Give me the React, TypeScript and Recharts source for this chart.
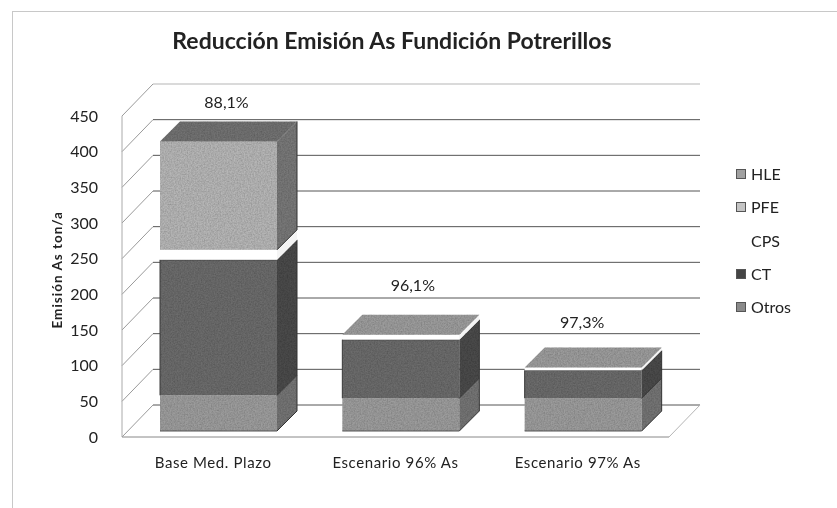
import { BarChart, Bar, XAxis, YAxis, CartesianGrid, LabelList, Legend } from 'recharts';

const categories = ['Base Med. Plazo', 'Escenario 96% As', 'Escenario 97% As'];
const seriesNames = ['Otros', 'CT', 'CPS', 'PFE', 'HLE'];
const otros = [50, 46, 46];
const ct = [190, 82, 39];
const cps = [14, 7, 4];
const pfe = [152, 0, 0];
const hle = [0, 0, 0];
const reduccion = ['88,1%', '96,1%', '97,3%'];
const yTicks = [0, 50, 100, 150, 200, 250, 300, 350, 400, 450];

const data = categories.map((name, i) => ({
  name,
  Otros: otros[i],
  CT: ct[i],
  CPS: cps[i],
  PFE: pfe[i],
  HLE: hle[i],
  reduccion: reduccion[i],
}));

const FONT = 'Lato, "Open Sans", sans-serif';
const DEPTH = 20;
const WALL = 31;

const colors: Record<string, { front: string; side: string }> = {
  Otros: { front: '#9c9c9c', side: '#747474' },
  CT: { front: '#6c6c6c', side: '#4c4c4c' },
  CPS: { front: '#ffffff', side: '#f4f4f4' },
  PFE: { front: '#b6b6b6', side: '#787878' },
  HLE: { front: '#9a9a9a', side: '#787878' },
};
const topColors = ['#727272', '#9c9c9c', '#9c9c9c'];
const legendColors = ['#8a8a8a', '#444444', 'none', '#c4c4c4', '#a0a0a0'];
const labelLift = [17, 28, 24];
const labelShift = [0, 4, -9];

// 3d box, the front face sits a little off the axis plane like excel does it
function Box3D(props: any) {
  const { x, y, width, height, seriesName, index } = props;
  const c = colors[seriesName];
  const l = x + 5;
  const r = l + width;
  const t = y - 6;
  const b = t + height;
  const d = DEPTH;
  const solid = seriesName !== 'CPS';
  return (
    <g>
      <g filter={solid ? 'url(#grain)' : undefined}>
        {height > 0 && <rect x={l} y={t} width={width} height={height} fill={c.front} />}
        {height > 0 && (
          <polygon points={`${r},${t} ${r + d},${t - d} ${r + d},${b - d} ${r},${b}`} fill={c.side} />
        )}
        {seriesName === 'HLE' && (
          <polygon points={`${l},${t} ${l + d},${t - d} ${r + d},${t - d} ${r},${t}`} fill={topColors[index]} />
        )}
      </g>
      {height > 0 && solid && (
        <polyline points={`${r + d},${t - d} ${r + d},${b - d} ${r},${b}`} fill="none" stroke="#333333" strokeWidth={1} />
      )}
      {seriesName === 'Otros' && <line x1={l} y1={b} x2={r} y2={b} stroke="#555555" />}
      {seriesName === 'CT' && <line x1={l} y1={t} x2={r} y2={t} stroke="#333333" />}
      {seriesName === 'CT' && <line x1={l} y1={t} x2={l} y2={b} stroke="#3a3a3a" />}
    </g>
  );
}

// gridline on the back wall plus the diagonal on the side wall
function GridLine(props: any) {
  const { x1, x2, y1 } = props;
  return (
    <g>
      <line x1={x1} y1={y1} x2={x1 + WALL} y2={y1 - WALL - 1} stroke="#9a9a9a" />
      <line x1={x1 + WALL} y1={y1 - WALL - 1} x2={x2 + WALL} y2={y1 - WALL - 1} stroke={y1 < 130 ? '#b5b5b5' : '#555555'} />
      {y1 > 430 && <line x1={x2} y1={y1} x2={x2 + WALL} y2={y1 - WALL - 1} stroke="#b5b5b5" />}
    </g>
  );
}

function PercentLabel(props: any) {
  const { x, y, width, index } = props;
  return (
    <text x={x + width / 2 + 13 + labelShift[index]} y={y - 6 - DEPTH - labelLift[index]} textAnchor="middle" dominantBaseline="middle" fontSize={16} fontFamily={FONT} fill="#222">
      {reduccion[index]}
    </text>
  );
}

function LegendBox() {
  return (
    <div style={{ fontFamily: FONT, fontSize: 16, color: '#222' }}>
      {[...seriesNames].reverse().map((name, i) => {
        const fill = legendColors[seriesNames.length - 1 - i];
        return (
          <div key={name} style={{ height: 33.3, display: 'flex', alignItems: 'center' }}>
            <span style={{ width: 8, height: 8, marginRight: 5, background: fill === 'none' ? 'transparent' : fill, border: fill === 'none' ? '1px solid transparent' : '1px solid #555' }} />
            {name}
          </div>
        );
      })}
    </div>
  );
}

export default function App() {
  return (
    <div style={{ position: 'absolute', left: 0, top: 0, width: 837, height: 508, background: '#fff', filter: 'blur(0.35px)' }}>
      <div style={{ position: 'absolute', left: 12, top: 11, width: 825, height: 497, borderLeft: '1px solid #c8c8c8', borderTop: '1px solid #c8c8c8' }} />
      <BarChart
        width={837}
        height={508}
        data={data}
        barSize={117}
        margin={{ top: 116, right: 78, bottom: 41, left: 0 }}
        style={{ position: 'absolute', left: 0, top: 0 }}
      >
        <defs>
          {/* scanned look on the faces */}
          <filter id="grain" x="0" y="0" width="100%" height="100%">
            <feTurbulence type="fractalNoise" baseFrequency="0.7" numOctaves={2} seed={4} result="n" />
            <feColorMatrix in="n" type="matrix" values="0 0 0 0 0  0 0 0 0 0  0 0 0 0 0  0.6 0 0 0 -0.17" result="spots" />
            <feComposite in="spots" in2="SourceAlpha" operator="in" result="clipped" />
            <feMerge>
              <feMergeNode in="SourceGraphic" />
              <feMergeNode in="clipped" />
            </feMerge>
          </filter>
        </defs>
        <text x={392} y={43} textAnchor="middle" dominantBaseline="middle" fontSize={23} fontWeight={700} fontFamily={FONT} fill="#222">
          Reducción Emisión As Fundición Potrerillos
        </text>
        <CartesianGrid vertical={false} horizontal={(p: any) => <GridLine key={p.key} {...p} />} syncWithTicks />
        <XAxis
          dataKey="name"
          axisLine={{ stroke: '#888888' }}
          tickLine={false}
          tick={{ fontFamily: FONT, fontSize: 15, fill: '#222', letterSpacing: 0.6 }}
          tickMargin={14}
        />
        <YAxis
          type="number"
          domain={[0, 450]}
          ticks={yTicks}
          width={122}
          axisLine={{ stroke: '#aaaaaa' }}
          tickLine={false}
          tick={{ fontFamily: FONT, fontSize: 16, fill: '#222' }}
          tickMargin={18}
          label={{ value: 'Emisión As ton/a', angle: -90, position: 'insideLeft', dx: 52, dy: 52, fontFamily: FONT, fontSize: 13.5, fontWeight: 700, fill: '#222', letterSpacing: 1 }}
        />
        <Legend layout="vertical" align="right" verticalAlign="top" content={<LegendBox />} wrapperStyle={{ left: 736, top: 157, width: 90 }} />
        {seriesNames.map((name) => (
          <Bar
            key={name}
            dataKey={name}
            stackId="a"
            isAnimationActive={false}
            shape={(p: any) => <Box3D {...p} seriesName={name} />}
          >
            {name === 'HLE' && <LabelList dataKey="reduccion" content={<PercentLabel />} />}
          </Bar>
        ))}
      </BarChart>
    </div>
  );
}
